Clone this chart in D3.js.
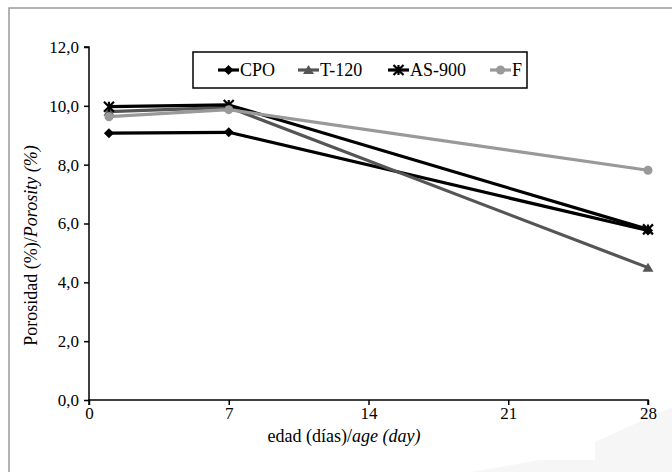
<!DOCTYPE html>
<html><head><meta charset="utf-8">
<script src="https://cdn.jsdelivr.net/npm/d3@7"></script>
<style>body{margin:0;background:#fff}svg{display:block}text{font-family:"Liberation Serif","Times New Roman",serif}</style>
</head><body>
<script>
const days = [1, 7, 28];
const seriesNames = ["CPO", "T-120", "AS-900", "F"];
const cpo = [9.07, 9.10, 5.76];
const t120 = [9.80, 9.95, 4.50];
const as900 = [9.97, 10.03, 5.80];
const fSeries = [9.63, 9.87, 7.81];
const xTicks = [0, 7, 14, 21, 28];
const yTicks = [0, 2, 4, 6, 8, 10, 12];

const series = [
  {name: seriesNames[0], values: cpo, color: "#000000", marker: "diamond"},
  {name: seriesNames[1], values: t120, color: "#555555", marker: "triangle"},
  {name: seriesNames[2], values: as900, color: "#000000", marker: "x"},
  {name: seriesNames[3], values: fSeries, color: "#999999", marker: "circle"}
];

const W = 672, H = 472;
const SERIF = '"Liberation Serif", "Times New Roman", serif';
const svg = d3.select("body").append("svg").attr("width", W).attr("height", H)
  .attr("font-family", SERIF);

// faint background shape lower right
svg.append("path").attr("d", "M470,472 L540,460 L595,460 L595,442 L672,407 L672,472 Z").attr("fill", "#f6f6f6");

// outer frame
svg.append("rect").attr("x", 9).attr("y", 8).attr("width", 680).attr("height", 480)
  .attr("fill", "none").attr("stroke", "#9a9a9a").attr("stroke-width", 1.5);

const x = d3.scaleLinear().domain([0, 28]).range([89, 648]);
const y = d3.scaleLinear().domain([0, 12]).range([400, 47]);

const fmt = d => d3.format(".1f")(d).replace(".", ",");

const xAxis = svg.append("g").attr("transform", `translate(0,${y(0)})`)
  .call(d3.axisBottom(x).tickValues(xTicks).tickSize(5).tickPadding(2).tickFormat(d3.format("d")));
const yAxis = svg.append("g").attr("transform", `translate(${x(0)},0)`)
  .call(d3.axisLeft(y).tickValues(yTicks).tickSize(5).tickPadding(5).tickFormat(fmt));
[xAxis, yAxis].forEach(a => {
  a.attr("font-family", SERIF).attr("font-size", 17);
  a.select(".domain").attr("stroke", "#000").attr("stroke-width", 1.5);
  a.selectAll(".tick line").attr("stroke", "#000").attr("stroke-width", 1.5);
  a.selectAll(".tick text").attr("fill", "#000").style("font-size", "17px")
    .style("font-family", SERIF);
});
yAxis.select(".domain").attr("d", `M-5,${y(12)}H0V${y(0)}`);
xAxis.select(".domain").attr("d", `M0,5V0H${x(28) - x(0)}V5`).attr("transform", `translate(${x(0)},0)`);

// axis titles
const xt = svg.append("text").attr("x", 344).attr("y", 442).attr("text-anchor", "middle").style("font-size", "18px");
xt.append("tspan").text("edad (días)/");
xt.append("tspan").attr("font-style", "italic").text("age (day)");

const yt = svg.append("text").attr("transform", `translate(37,${(y(0) + y(12)) / 2 + 22}) rotate(-90)`)
  .attr("text-anchor", "middle").style("font-size", "18px");
yt.append("tspan").text("Porosidad (%)/");
yt.append("tspan").attr("font-style", "italic").text("Porosity (%)");

function drawMarker(g, type, cx, cy, color) {
  if (type === "diamond") {
    g.append("path").attr("d", `M${cx},${cy - 5}L${cx + 5},${cy}L${cx},${cy + 5}L${cx - 5},${cy}Z`).attr("fill", color);
  } else if (type === "triangle") {
    g.append("path").attr("d", `M${cx},${cy - 5}L${cx + 5.5},${cy + 4}L${cx - 5.5},${cy + 4}Z`).attr("fill", color);
  } else if (type === "x") {
    g.append("path").attr("d", `M${cx - 5},${cy - 5}L${cx + 5},${cy + 5}M${cx - 5},${cy + 5}L${cx + 5},${cy - 5}M${cx},${cy - 5}V${cy + 5}`)
      .attr("stroke", color).attr("stroke-width", 2.2);
  } else {
    g.append("circle").attr("cx", cx).attr("cy", cy).attr("r", 4.5).attr("fill", color);
  }
}

const line = d3.line().x((d, i) => x(days[i])).y(d => y(d));
series.forEach(s => {
  const g = svg.append("g");
  g.append("path").datum(s.values).attr("d", line).attr("fill", "none")
    .attr("stroke", s.color).attr("stroke-width", 3.2).attr("stroke-linejoin", "round");
  s.values.forEach((v, i) => drawMarker(g, s.marker, x(days[i]), y(v), s.color));
});

// legend
svg.append("rect").attr("x", 193).attr("y", 52).attr("width", 334).attr("height", 36)
  .attr("fill", "#fff").attr("stroke", "#000").attr("stroke-width", 1.5);
const legX = [218, 298, 388, 490];
series.forEach((s, i) => {
  const g = svg.append("g");
  const lx = legX[i], ly = 70;
  g.append("line").attr("x1", lx).attr("x2", lx + 21).attr("y1", ly).attr("y2", ly)
    .attr("stroke", s.color).attr("stroke-width", 3.2);
  drawMarker(g, s.marker, lx + 10.5, ly, s.color);
  g.append("text").attr("x", lx + 22).attr("y", ly + 6).style("font-size", "18px").text(s.name);
});
</script>
</body></html>
